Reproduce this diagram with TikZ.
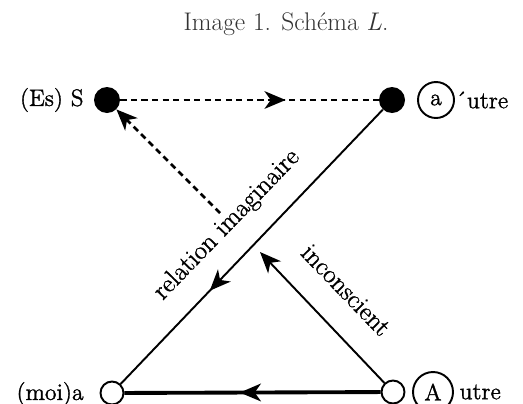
\documentclass[tikz,border=0pt]{standalone}
\usepackage{amsmath}
\usepackage{amssymb}
\usepackage{fontspec}
\setmainfont{Latin Modern Roman}[BoldFont={Latin Modern Roman},BoldFeatures={FakeBold=1.2}]
\usetikzlibrary{arrows.meta,decorations.markings}

\begin{document}
\begin{tikzpicture}[x=0.02cm,y=-0.02cm,
  dot/.style={circle,fill=black,inner sep=0pt,minimum size=0.52cm},
  hollow/.style={circle,draw,line width=1.1pt,fill=white,inner sep=0pt,minimum size=0.46cm},
  ring/.style={circle,draw,line width=1.1pt,inner sep=0pt,font=\fontsize{13.5}{15}\selectfont\bfseries},
  lbl/.style={font=\fontsize{13.5}{15}\selectfont\bfseries,inner sep=0pt},
  slant/.style={font=\fontsize{15}{17}\selectfont\bfseries,inner sep=0pt},
  tip/.style={-{Stealth[length=12pt,width=10pt,inset=3.5pt]}},
  midtip/.style={postaction={decorate},decoration={markings,
    mark=at position #1 with {\arrow{Stealth[length=12pt,width=10pt,inset=3.5pt]}}}}]
\useasboundingbox (0,0) rectangle (523,403);
\node [inner sep=0pt,text=black!80,font=\fontsize{14.5}{16}\selectfont] (title) at (286,24) {Image 1. Schéma \textit{L}.};
% the four corners
\node [dot] (S) at (107,100) {};
\node [dot] (ap) at (392,100) {};
\node [hollow] (moi) at (112,393) {};
\node [hollow] (A) at (393,392) {};
\node [lbl,anchor=east] (Sl) at (84,100) {(Es) S};
\node [lbl,anchor=east] (moil) at (84,394) {(moi)a};
\node [ring,minimum size=0.72cm] (ar) at (436,100) {a};
\node [lbl,anchor=west] (apl) at (ar.east) {\'{}utre};
\node [ring,minimum size=0.8cm] (Ar) at (433,392) {A};
\node [lbl,anchor=west,xshift=3pt] (Al) at (Ar.east) {utre};
% connectors
\coordinate (d) at (220,213);
\coordinate (c) at (260,252);
\draw [line width=1.6pt,dash pattern=on 3.5pt off 2.5pt,midtip=0.64] (S) -- (ap);
\draw [line width=1.6pt,dash pattern=on 3.5pt off 2.5pt,tip] (d) -- (S);
\draw [line width=1.1pt,midtip=0.66] (ap) -- (moi);
\draw [line width=1.1pt,tip] (A) -- (c);
\draw [line width=2.2pt,midtip=0.55] (A) -- (moi);
\node [slant,rotate=46] (ri) at (227,225) {relation imaginaire};
\node [slant,rotate=-46] (ic) at (346,290) {inconscient};
\end{tikzpicture}
\end{document}
